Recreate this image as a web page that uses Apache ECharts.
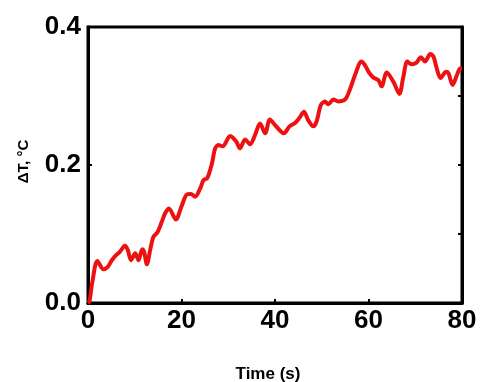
<!DOCTYPE html>
<html>
<head>
    <meta charset="UTF-8">
    <title>dT vs time</title>
    <script src="https://cdn.jsdelivr.net/npm/echarts@6/dist/echarts.min.js"></script>
    <style>
        html, body { margin: 0; padding: 0; background: #fff; }
        #chart { width: 480px; height: 382px; }
    </style>
</head>
<body>
    <div id="chart"></div>
    <script>
        // time (s) and temperature rise (degC)
        var times = [0, 0.3, 0.9, 2.0, 3.3, 4.2, 5.1, 6.1, 6.8, 7.9, 8.5, 9.2, 10.1, 10.8, 11.6, 12.0, 12.6, 13.3, 14.0, 14.9,
            15.8, 16.5, 17.3, 18.8, 20.0, 21.1, 22.0, 22.9, 24.0, 24.7, 25.5, 26.5, 27.2, 27.9, 28.8, 30.4, 31.7, 32.5, 33.6,
            34.7, 35.7, 36.8, 37.9, 38.9, 40.0, 41.9, 43.1, 44.3, 45.2, 46.2, 47.1, 48.2, 48.9, 49.8, 50.7, 51.4, 52.5, 53.5,
            55.0, 56.0, 57.1, 58.5, 59.2, 60.2, 61.0, 62.1, 62.8, 63.9, 65.3, 66.6, 67.4, 68.3, 69.2, 70.2, 71.2, 72.1, 73.2,
            73.9, 74.6, 75.4, 76.6, 77.1, 78.0, 78.9, 79.6, 80];
        var deltaT = [0, 0.002, 0.029, 0.061, 0.049, 0.052, 0.062, 0.070, 0.074, 0.083, 0.077, 0.062, 0.072, 0.062, 0.078, 0.074,
            0.056, 0.077, 0.096, 0.103, 0.118, 0.130, 0.137, 0.121, 0.140, 0.157, 0.158, 0.154, 0.166, 0.178, 0.181, 0.202,
            0.224, 0.229, 0.227, 0.242, 0.234, 0.224, 0.237, 0.230, 0.243, 0.260, 0.246, 0.266, 0.258, 0.246, 0.256, 0.261,
            0.268, 0.277, 0.265, 0.256, 0.263, 0.287, 0.292, 0.288, 0.295, 0.292, 0.295, 0.309, 0.330, 0.350, 0.345, 0.333,
            0.327, 0.323, 0.314, 0.334, 0.321, 0.303, 0.326, 0.350, 0.346, 0.348, 0.356, 0.350, 0.361, 0.357, 0.340, 0.326,
            0.335, 0.333, 0.316, 0.330, 0.340, 0.340];

        var points = [];
        for (var i = 0; i < times.length; i++) {
            points.push([times[i], deltaT[i]]);
        }

        var chart = echarts.init(document.getElementById('chart'), null, {renderer: 'canvas'});
        var labelFont = {color: '#000', fontFamily: 'Liberation Sans', fontWeight: 'bold', fontSize: 26};

        chart.setOption({
            animation: false,
            backgroundColor: '#fff',
            grid: {
                left: 88, right: 18, top: 27, bottom: 79,
                containLabel: false, outerBoundsMode: 'none',
                show: true, borderColor: '#000', borderWidth: 3
            },
            xAxis: [{
                type: 'value', min: 0, max: 80, interval: 20,
                name: 'Time (s)', nameLocation: 'middle', nameGap: 63,
                nameTextStyle: {color: '#000', fontFamily: 'Liberation Sans', fontWeight: 'bold', fontSize: 17, padding: [0, 14, 0, 0]},
                axisLine: {lineStyle: {color: '#000', width: 3}},
                axisTick: {inside: true, length: 4, lineStyle: {color: '#000', width: 2}},
                axisLabel: Object.assign({margin: 5, alignMinLabel: 'center', alignMaxLabel: 'center'}, labelFont),
                splitLine: {show: false}
            }],
            yAxis: [{
                type: 'value', min: 0, max: 0.4, interval: 0.2,
                name: 'ΔT, °C', nameLocation: 'middle', nameGap: 57,
                nameTextStyle: {color: '#000', fontFamily: 'Liberation Sans', fontWeight: 'bold', fontSize: 15, padding: [0, 0, 0, 7]},
                axisLine: {lineStyle: {color: '#000', width: 3}},
                axisTick: {inside: true, length: 4, lineStyle: {color: '#000', width: 2}},
                axisLabel: Object.assign({
                    margin: 7,
                    verticalAlign: 'middle',
                    formatter: function (v) { return v.toFixed(1); }
                }, labelFont),
                splitLine: {show: false}
            }, {
                type: 'value', min: 0, max: 0.4, interval: 0.1, position: 'right',
                axisLine: {show: true, lineStyle: {color: '#000', width: 3}},
                axisTick: {inside: true, length: 4, lineStyle: {color: '#000', width: 2}},
                axisLabel: {show: false},
                splitLine: {show: false}
            }],
            series: [{
                type: 'line',
                data: points,
                showSymbol: false,
                smooth: 0.3,
                lineStyle: {color: '#ee1111', width: 4},
                z: 1
            }]
        });
    </script>
</body>
</html>
